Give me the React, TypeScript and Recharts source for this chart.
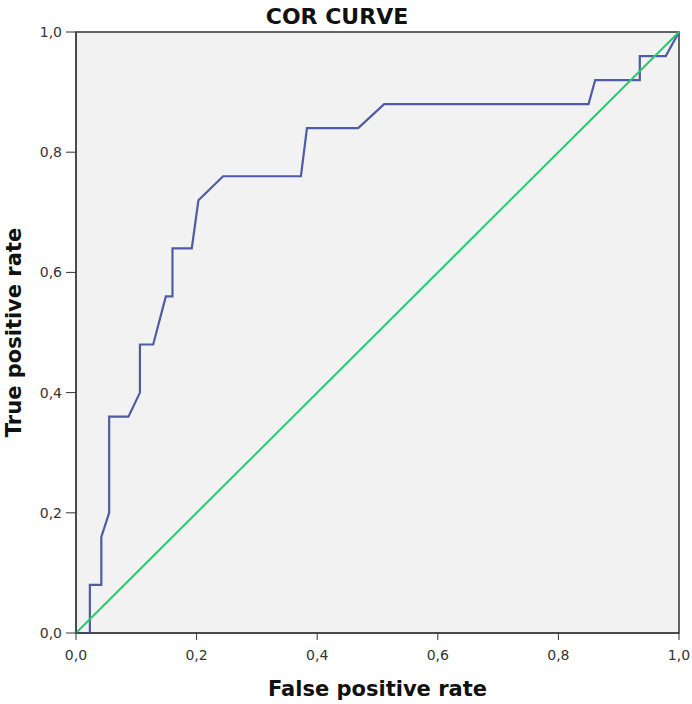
import React from "react";
import { LineChart, Line, XAxis, YAxis, ReferenceArea } from "recharts";

const rocFpr = [0, 0.023, 0.023, 0.042, 0.042, 0.055, 0.055, 0.087, 0.106, 0.106, 0.128, 0.149, 0.16, 0.16, 0.192, 0.203, 0.244, 0.373, 0.383, 0.468, 0.511, 0.85, 0.861, 0.935, 0.935, 0.978, 1];
const rocTpr = [0, 0, 0.08, 0.08, 0.16, 0.2, 0.36, 0.36, 0.4, 0.48, 0.48, 0.56, 0.56, 0.64, 0.64, 0.72, 0.76, 0.76, 0.84, 0.84, 0.88, 0.88, 0.92, 0.92, 0.96, 0.96, 1];
const refFpr = [0, 1];
const refTpr = [0, 1];
const ticks = [0, 0.2, 0.4, 0.6, 0.8, 1];

const rocData = rocFpr.map((f, i) => ({ fpr: f, tpr: rocTpr[i] }));
const refData = refFpr.map((f, i) => ({ fpr: f, tpr: refTpr[i] }));

const fmt = (v: number) => v.toFixed(1).replace(".", ",");
const FONT = "'DejaVu Sans', sans-serif";

const XLabel = (props: any) => {
  const vb = props.viewBox || {};
  return (
    <text
      x={vb.x + vb.width / 2}
      y={vb.y + vb.height - 8}
      textAnchor="middle"
      fontFamily={FONT}
      fontWeight="bold"
      fontSize={21}
      fill="#111"
    >
      False positive rate
    </text>
  );
};

const YLabel = (props: any) => {
  const vb = props.viewBox || {};
  const x = vb.x + 21;
  const y = vb.y + vb.height / 2;
  return (
    <text
      x={x}
      y={y}
      transform={`rotate(-90 ${x} ${y})`}
      textAnchor="middle"
      fontFamily={FONT}
      fontWeight="bold"
      fontSize={21}
      fill="#111"
    >
      True positive rate
    </text>
  );
};

export default function App() {
  return (
    <div style={{ position: "relative", width: 692, height: 704 }}>
      <style>{"html,body{margin:0;padding:0;overflow:hidden;}"}</style>
      <div
        style={{
          position: "absolute",
          left: 0,
          top: 4,
          width: 674,
          textAlign: "center",
          fontFamily: FONT,
          fontWeight: "bold",
          fontSize: 22,
          color: "#111",
        }}
      >
        COR CURVE
      </div>
      <LineChart
        width={692}
        height={704}
        margin={{ top: 32, right: 13, bottom: 0, left: 0 }}
      >
        <XAxis
          dataKey="fpr"
          type="number"
          domain={[0, 1]}
          ticks={ticks}
          tickFormatter={fmt}
          height={71}
          tickSize={7}
          tickMargin={10}
          stroke="#333"
          tick={{ fill: "#333", fontSize: 14, fontFamily: FONT }}
          allowDuplicatedCategory={false}
          label={<XLabel />}
        />
        <YAxis
          dataKey="tpr"
          type="number"
          domain={[0, 1]}
          ticks={ticks}
          tickFormatter={fmt}
          width={76}
          tickSize={10}
          tickMargin={4}
          stroke="#333"
          tick={{ fill: "#333", fontSize: 14, fontFamily: FONT }}
          label={<YLabel />}
        />
        <ReferenceArea
          x1={0}
          x2={1}
          y1={0}
          y2={1}
          fill="#f2f2f2"
          fillOpacity={1}
          stroke="#333"
          strokeWidth={1.5}
        />
        <Line
          data={rocData}
          dataKey="tpr"
          type="linear"
          stroke="#4e5ca3"
          strokeWidth={2.2}
          dot={false}
          isAnimationActive={false}
        />
        <Line
          data={refData}
          dataKey="tpr"
          type="linear"
          stroke="#1ecf6c"
          strokeWidth={2}
          dot={false}
          isAnimationActive={false}
        />
      </LineChart>
    </div>
  );
}
